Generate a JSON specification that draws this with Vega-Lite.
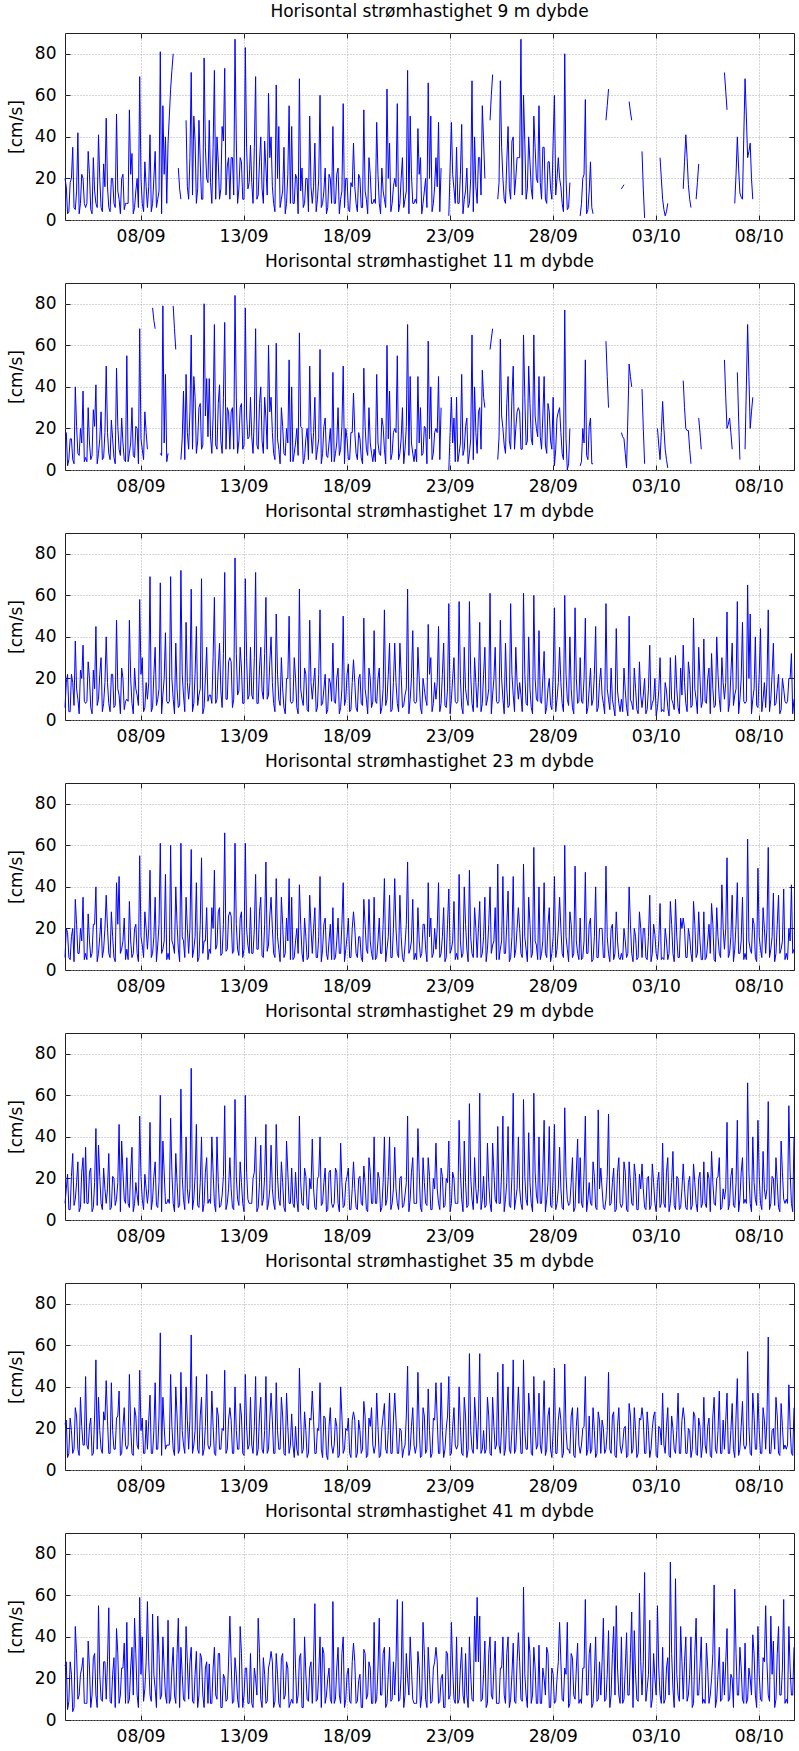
{
"$schema":"https://vega.github.io/schema/vega-lite/v6.json",
"background":"white",
"padding":{"left":6,"top":2,"right":4,"bottom":4},
"bounds":"flush",
"spacing":63,
"config":{
 "font":"DejaVu Sans",
 "view":{"stroke":"#222","strokeWidth":1},
 "axis":{"labelFont":"DejaVu Sans","labelFontSize":17,"labelColor":"#000","titleFont":"DejaVu Sans","titleFontSize":17,"titleFontWeight":"normal","titleColor":"#000","gridColor":"#aaaaaa","gridDash":[1,2],"gridWidth":1,"domain":false,"tickColor":"#222","tickSize":-5},
 "title":{"font":"DejaVu Sans","fontSize":17,"fontWeight":"normal","color":"#000","anchor":"middle","offset":12}
},
"data":{"values":[
{"t":"2011-09-04T08:00","m9":20,"m11":18,"m17":6,"m23":6,"m29":8,"m35":22,"m41":26},
{"t":"2011-09-04T11:00","m9":3,"m11":2,"m17":22,"m23":18,"m29":22,"m35":6,"m41":5},
{"t":"2011-09-04T14:00","m9":18,"m11":15,"m17":4,"m23":5,"m29":5,"m35":25,"m41":28},
{"t":"2011-09-04T17:00","m9":35,"m11":5,"m17":18,"m23":20,"m29":32,"m35":8,"m41":4},
{"t":"2011-09-04T20:00","m9":5,"m11":40,"m17":38,"m23":34,"m29":10,"m35":30,"m41":45},
{"t":"2011-09-04T23:00","m9":42,"m11":8,"m17":10,"m23":8,"m29":28,"m35":10,"m41":10},
{"t":"2011-09-05T02:00","m9":8,"m11":20,"m17":24,"m23":20,"m29":6,"m35":35,"m41":22},
{"t":"2011-09-05T05:00","m9":20,"m11":38,"m17":36,"m23":35,"m29":30,"m35":12,"m41":30},
{"t":"2011-09-05T08:00","m9":6,"m11":6,"m17":8,"m23":8,"m29":35,"m35":45,"m41":8},
{"t":"2011-09-05T11:00","m9":33,"m11":30,"m17":28,"m23":27,"m29":8,"m35":10,"m41":38},
{"t":"2011-09-05T14:00","m9":5,"m11":5,"m17":6,"m23":6,"m29":25,"m35":25,"m41":6},
{"t":"2011-09-05T17:00","m9":30,"m11":29,"m17":24,"m23":22,"m29":6,"m35":8,"m41":30},
{"t":"2011-09-05T20:00","m9":8,"m11":41,"m17":45,"m23":40,"m29":44,"m35":53,"m41":12},
{"t":"2011-09-05T23:00","m9":41,"m11":8,"m17":10,"m23":8,"m29":36,"m35":35,"m41":55},
{"t":"2011-09-06T02:00","m9":6,"m11":28,"m17":30,"m23":25,"m29":8,"m35":10,"m41":10},
{"t":"2011-09-06T05:00","m9":27,"m11":6,"m17":8,"m23":10,"m29":25,"m35":28,"m41":28},
{"t":"2011-09-06T08:00","m9":49,"m11":50,"m17":40,"m23":36,"m29":8,"m35":43,"m41":10},
{"t":"2011-09-06T11:00","m9":6,"m11":8,"m17":8,"m23":8,"m29":32,"m35":8,"m41":54},
{"t":"2011-09-06T14:00","m9":20,"m11":24,"m17":22,"m23":28,"m29":6,"m35":42,"m41":8},
{"t":"2011-09-06T17:00","m9":8,"m11":6,"m17":6,"m23":6,"m29":20,"m35":10,"m41":30},
{"t":"2011-09-06T20:00","m9":51,"m11":49,"m17":48,"m23":42,"m29":10,"m35":25,"m41":44},
{"t":"2011-09-06T23:00","m9":10,"m11":10,"m17":12,"m23":45,"m29":46,"m35":38,"m41":8},
{"t":"2011-09-07T02:00","m9":20,"m11":25,"m17":25,"m23":10,"m29":38,"m35":8,"m41":25},
{"t":"2011-09-07T05:00","m9":5,"m11":5,"m17":5,"m23":25,"m29":10,"m35":30,"m41":37},
{"t":"2011-09-07T08:00","m9":8,"m11":55,"m17":10,"m23":10,"m29":30,"m35":10,"m41":47},
{"t":"2011-09-07T11:00","m9":53,"m11":8,"m17":48,"m23":33,"m29":6,"m35":46,"m41":10},
{"t":"2011-09-07T14:00","m9":32,"m11":30,"m17":8,"m23":6,"m29":35,"m35":8,"m41":35},
{"t":"2011-09-07T17:00","m9":6,"m11":6,"m17":25,"m23":20,"m29":8,"m35":30,"m41":49},
{"t":"2011-09-07T20:00","m9":20,"m11":20,"m17":12,"m23":8,"m29":12,"m35":12,"m41":12},
{"t":"2011-09-07T23:00","m9":69,"m11":68,"m17":58,"m23":55,"m29":50,"m35":48,"m41":59},
{"t":"2011-09-08T02:00","m9":8,"m11":10,"m17":30,"m23":12,"m29":10,"m35":25,"m41":40},
{"t":"2011-09-08T05:00","m9":28,"m11":28,"m17":6,"m23":28,"m29":22,"m35":8,"m41":15},
{"t":"2011-09-08T08:00","m9":6,"m11":10,"m17":10,"m23":10,"m29":8,"m35":10,"m41":57},
{"t":"2011-09-08T11:00","m9":41,"m11":null,"m17":69,"m23":48,"m29":47,"m35":36,"m41":12},
{"t":"2011-09-08T14:00","m9":8,"m11":78,"m17":6,"m23":8,"m29":10,"m35":8,"m41":51},
{"t":"2011-09-08T17:00","m9":33,"m11":68,"m17":35,"m23":35,"m29":28,"m35":42,"m41":15},
{"t":"2011-09-08T20:00","m9":10,"m11":null,"m17":10,"m23":12,"m29":6,"m35":10,"m41":50},
{"t":"2011-09-08T23:00","m9":81,"m11":8,"m17":66,"m23":61,"m29":60,"m35":66,"m41":10},
{"t":"2011-09-09T02:00","m9":55,"m11":79,"m17":12,"m23":10,"m29":38,"m35":35,"m41":40},
{"t":"2011-09-09T05:00","m9":40,"m11":46,"m17":42,"m23":46,"m29":8,"m35":10,"m41":12},
{"t":"2011-09-09T08:00","m9":37,"m11":8,"m17":8,"m23":8,"m29":10,"m35":12,"m41":48},
{"t":"2011-09-09T11:00","m9":63,"m11":null,"m17":69,"m23":60,"m29":49,"m35":46,"m41":10},
{"t":"2011-09-09T14:00","m9":80,"m11":79,"m17":10,"m23":12,"m29":8,"m35":10,"m41":35},
{"t":"2011-09-09T17:00","m9":null,"m11":58,"m17":37,"m23":40,"m29":32,"m35":40,"m41":8},
{"t":"2011-09-09T20:00","m9":25,"m11":null,"m17":6,"m23":10,"m29":6,"m35":8,"m41":49},
{"t":"2011-09-09T23:00","m9":10,"m11":5,"m17":72,"m23":61,"m29":63,"m35":47,"m41":35},
{"t":"2011-09-10T02:00","m9":null,"m11":38,"m17":12,"m23":14,"m29":10,"m35":12,"m41":10},
{"t":"2011-09-10T05:00","m9":48,"m11":46,"m17":47,"m23":35,"m29":40,"m35":40,"m41":45},
{"t":"2011-09-10T08:00","m9":10,"m11":10,"m17":10,"m23":8,"m29":8,"m35":10,"m41":10},
{"t":"2011-09-10T11:00","m9":71,"m11":65,"m17":63,"m23":58,"m29":73,"m35":65,"m41":35},
{"t":"2011-09-10T14:00","m9":50,"m11":45,"m17":8,"m23":10,"m29":10,"m35":12,"m41":8},
{"t":"2011-09-10T17:00","m9":8,"m11":8,"m17":45,"m23":42,"m29":46,"m35":45,"m41":33},
{"t":"2011-09-10T20:00","m9":48,"m11":30,"m17":12,"m23":6,"m29":6,"m35":8,"m41":12},
{"t":"2011-09-10T23:00","m9":10,"m11":10,"m17":68,"m23":54,"m29":40,"m35":35,"m41":30},
{"t":"2011-09-11T02:00","m9":78,"m11":80,"m17":6,"m23":14,"m29":8,"m35":10,"m41":6},
{"t":"2011-09-11T05:00","m9":20,"m11":44,"m17":35,"m23":30,"m29":30,"m35":46,"m41":28},
{"t":"2011-09-11T08:00","m9":48,"m11":44,"m17":12,"m23":10,"m29":10,"m35":10,"m41":27},
{"t":"2011-09-11T11:00","m9":8,"m11":8,"m17":8,"m23":30,"m29":40,"m35":38,"m41":8},
{"t":"2011-09-11T14:00","m9":72,"m11":70,"m17":59,"m23":48,"m29":8,"m35":8,"m41":35},
{"t":"2011-09-11T17:00","m9":40,"m11":10,"m17":10,"m23":12,"m29":40,"m35":30,"m41":10},
{"t":"2011-09-11T20:00","m9":10,"m11":41,"m17":37,"m23":30,"m29":6,"m35":10,"m41":32},
{"t":"2011-09-11T23:00","m9":45,"m11":8,"m17":6,"m23":8,"m29":12,"m35":20,"m41":6},
{"t":"2011-09-12T02:00","m9":73,"m11":71,"m17":71,"m23":66,"m29":55,"m35":48,"m41":20},
{"t":"2011-09-12T05:00","m9":26,"m11":30,"m17":10,"m23":10,"m29":8,"m35":10,"m41":10},
{"t":"2011-09-12T08:00","m9":10,"m11":10,"m17":30,"m23":28,"m29":30,"m35":30,"m41":50},
{"t":"2011-09-12T11:00","m9":30,"m11":30,"m17":6,"m23":8,"m29":6,"m35":8,"m41":8},
{"t":"2011-09-12T14:00","m9":87,"m11":84,"m17":78,"m23":61,"m29":58,"m35":40,"m41":30},
{"t":"2011-09-12T17:00","m9":8,"m11":8,"m17":12,"m23":10,"m29":10,"m35":10,"m41":10},
{"t":"2011-09-12T20:00","m9":30,"m11":30,"m17":35,"m23":25,"m29":28,"m35":32,"m41":45},
{"t":"2011-09-12T23:00","m9":10,"m11":10,"m17":8,"m23":6,"m29":8,"m35":8,"m41":6},
{"t":"2011-09-13T02:00","m9":83,"m11":78,"m17":68,"m23":61,"m29":60,"m35":46,"m41":25},
{"t":"2011-09-13T05:00","m9":15,"m11":15,"m17":10,"m23":12,"m29":10,"m35":10,"m41":8},
{"t":"2011-09-13T08:00","m9":36,"m11":35,"m17":35,"m23":30,"m29":8,"m35":35,"m41":32},
{"t":"2011-09-13T11:00","m9":8,"m11":8,"m17":10,"m23":8,"m29":20,"m35":8,"m41":6},
{"t":"2011-09-13T14:00","m9":69,"m11":68,"m17":71,"m23":46,"m29":40,"m35":45,"m41":20},
{"t":"2011-09-13T17:00","m9":12,"m11":10,"m17":8,"m23":10,"m29":6,"m35":10,"m41":49},
{"t":"2011-09-13T20:00","m9":40,"m11":40,"m17":35,"m23":35,"m29":36,"m35":35,"m41":10},
{"t":"2011-09-13T23:00","m9":8,"m11":8,"m17":10,"m23":6,"m29":10,"m35":8,"m41":30},
{"t":"2011-09-14T02:00","m9":25,"m11":25,"m17":59,"m23":52,"m29":46,"m35":45,"m41":8},
{"t":"2011-09-14T05:00","m9":61,"m11":60,"m17":12,"m23":12,"m29":8,"m35":10,"m41":25},
{"t":"2011-09-14T08:00","m9":40,"m11":35,"m17":40,"m23":35,"m29":36,"m35":37,"m41":33},
{"t":"2011-09-14T11:00","m9":8,"m11":8,"m17":8,"m23":8,"m29":8,"m35":8,"m41":6},
{"t":"2011-09-14T14:00","m9":65,"m11":61,"m17":51,"m23":44,"m29":46,"m35":42,"m41":32},
{"t":"2011-09-14T17:00","m9":45,"m11":10,"m17":10,"m23":10,"m29":10,"m35":10,"m41":8},
{"t":"2011-09-14T20:00","m9":10,"m11":30,"m17":30,"m23":35,"m29":28,"m35":35,"m41":30},
{"t":"2011-09-14T23:00","m9":35,"m11":8,"m17":6,"m23":6,"m29":6,"m35":8,"m41":10},
{"t":"2011-09-15T02:00","m9":8,"m11":20,"m17":20,"m23":25,"m29":38,"m35":37,"m41":28},
{"t":"2011-09-15T05:00","m9":55,"m11":53,"m17":50,"m23":44,"m29":8,"m35":8,"m41":6},
{"t":"2011-09-15T08:00","m9":45,"m11":40,"m17":8,"m23":35,"m29":25,"m35":27,"m41":10},
{"t":"2011-09-15T11:00","m9":8,"m11":8,"m17":30,"m23":6,"m29":6,"m35":6,"m41":49},
{"t":"2011-09-15T14:00","m9":20,"m11":20,"m17":6,"m23":20,"m29":10,"m35":10,"m41":8},
{"t":"2011-09-15T17:00","m9":68,"m11":66,"m17":63,"m23":41,"m29":50,"m35":49,"m41":30},
{"t":"2011-09-15T20:00","m9":25,"m11":20,"m17":10,"m23":8,"m29":8,"m35":8,"m41":6},
{"t":"2011-09-15T23:00","m9":8,"m11":6,"m17":25,"m23":25,"m29":25,"m35":28,"m41":40},
{"t":"2011-09-16T02:00","m9":20,"m11":20,"m17":5,"m23":5,"m29":6,"m35":6,"m41":10},
{"t":"2011-09-16T05:00","m9":50,"m11":50,"m17":48,"m23":36,"m29":20,"m35":25,"m41":25},
{"t":"2011-09-16T08:00","m9":8,"m11":8,"m17":10,"m23":8,"m29":39,"m35":38,"m41":8},
{"t":"2011-09-16T11:00","m9":37,"m11":35,"m17":25,"m23":30,"m29":6,"m35":8,"m41":56},
{"t":"2011-09-16T14:00","m9":10,"m11":10,"m17":6,"m23":6,"m29":20,"m35":20,"m41":10},
{"t":"2011-09-16T17:00","m9":60,"m11":58,"m17":53,"m23":45,"m29":40,"m35":42,"m41":40},
{"t":"2011-09-16T20:00","m9":8,"m11":8,"m17":8,"m23":10,"m29":8,"m35":6,"m41":35},
{"t":"2011-09-16T23:00","m9":25,"m11":25,"m17":22,"m23":25,"m29":25,"m35":25,"m41":8},
{"t":"2011-09-17T02:00","m9":6,"m11":6,"m17":5,"m23":5,"m29":5,"m35":5,"m41":20},
{"t":"2011-09-17T05:00","m9":20,"m11":20,"m17":18,"m23":22,"m29":24,"m35":30,"m41":10},
{"t":"2011-09-17T08:00","m9":45,"m11":47,"m17":37,"m23":30,"m29":6,"m35":8,"m41":57},
{"t":"2011-09-17T11:00","m9":8,"m11":8,"m17":8,"m23":6,"m29":25,"m35":25,"m41":10},
{"t":"2011-09-17T14:00","m9":25,"m11":30,"m17":25,"m23":25,"m29":8,"m35":6,"m41":35},
{"t":"2011-09-17T17:00","m9":10,"m11":10,"m17":6,"m23":8,"m29":37,"m35":40,"m41":8},
{"t":"2011-09-17T20:00","m9":56,"m11":50,"m17":50,"m23":42,"m29":6,"m35":8,"m41":40},
{"t":"2011-09-17T23:00","m9":20,"m11":20,"m17":10,"m23":10,"m29":18,"m35":20,"m41":10},
{"t":"2011-09-18T02:00","m9":5,"m11":5,"m17":27,"m23":25,"m29":25,"m35":25,"m41":25},
{"t":"2011-09-18T05:00","m9":18,"m11":18,"m17":5,"m23":6,"m29":5,"m35":6,"m41":8},
{"t":"2011-09-18T08:00","m9":37,"m11":37,"m17":29,"m23":28,"m29":28,"m35":28,"m41":37},
{"t":"2011-09-18T11:00","m9":8,"m11":8,"m17":6,"m23":8,"m29":6,"m35":6,"m41":8},
{"t":"2011-09-18T14:00","m9":22,"m11":18,"m17":20,"m23":16,"m29":20,"m35":24,"m41":19},
{"t":"2011-09-18T17:00","m9":6,"m11":6,"m17":8,"m23":6,"m29":8,"m35":8,"m41":6},
{"t":"2011-09-18T20:00","m9":53,"m11":49,"m17":49,"m23":34,"m29":26,"m35":33,"m41":34},
{"t":"2011-09-18T23:00","m9":10,"m11":10,"m17":10,"m23":10,"m29":5,"m35":6,"m41":10},
{"t":"2011-09-19T02:00","m9":30,"m11":30,"m17":25,"m23":34,"m29":30,"m35":25,"m41":28},
{"t":"2011-09-19T05:00","m9":8,"m11":8,"m17":6,"m23":8,"m29":8,"m35":30,"m41":8},
{"t":"2011-09-19T08:00","m9":10,"m11":10,"m17":43,"m23":35,"m29":40,"m35":8,"m41":47},
{"t":"2011-09-19T11:00","m9":47,"m11":46,"m17":8,"m23":6,"m29":8,"m35":37,"m41":10},
{"t":"2011-09-19T14:00","m9":8,"m11":8,"m17":25,"m23":25,"m29":20,"m35":6,"m41":49},
{"t":"2011-09-19T17:00","m9":25,"m11":25,"m17":6,"m23":8,"m29":6,"m35":20,"m41":12},
{"t":"2011-09-19T20:00","m9":10,"m11":10,"m17":53,"m23":44,"m29":40,"m35":32,"m41":35},
{"t":"2011-09-19T23:00","m9":63,"m11":60,"m17":10,"m23":10,"m29":10,"m35":8,"m41":8},
{"t":"2011-09-20T02:00","m9":37,"m11":38,"m17":37,"m23":36,"m29":40,"m35":37,"m41":35},
{"t":"2011-09-20T05:00","m9":8,"m11":8,"m17":5,"m23":6,"m29":8,"m35":8,"m41":10},
{"t":"2011-09-20T08:00","m9":20,"m11":20,"m17":37,"m23":44,"m29":35,"m35":37,"m41":12},
{"t":"2011-09-20T11:00","m9":56,"m11":55,"m17":8,"m23":8,"m29":8,"m35":8,"m41":58},
{"t":"2011-09-20T14:00","m9":8,"m11":8,"m17":37,"m23":36,"m29":20,"m35":20,"m41":10},
{"t":"2011-09-20T17:00","m9":30,"m11":30,"m17":6,"m23":6,"m29":6,"m35":6,"m41":57},
{"t":"2011-09-20T20:00","m9":10,"m11":10,"m17":12,"m23":12,"m29":12,"m35":12,"m41":12},
{"t":"2011-09-20T23:00","m9":72,"m11":70,"m17":63,"m23":52,"m29":50,"m35":50,"m41":20},
{"t":"2011-09-21T02:00","m9":50,"m11":45,"m17":10,"m23":10,"m29":10,"m35":10,"m41":40},
{"t":"2011-09-21T05:00","m9":8,"m11":8,"m17":43,"m23":34,"m29":30,"m35":30,"m41":10},
{"t":"2011-09-21T08:00","m9":10,"m11":10,"m17":8,"m23":8,"m29":8,"m35":8,"m41":8},
{"t":"2011-09-21T11:00","m9":44,"m11":45,"m17":35,"m23":30,"m29":44,"m35":47,"m41":33},
{"t":"2011-09-21T14:00","m9":30,"m11":30,"m17":6,"m23":6,"m29":6,"m35":6,"m41":6},
{"t":"2011-09-21T17:00","m9":8,"m11":8,"m17":20,"m23":22,"m29":30,"m35":30,"m41":47},
{"t":"2011-09-21T20:00","m9":20,"m11":20,"m17":10,"m23":10,"m29":8,"m35":8,"m41":10},
{"t":"2011-09-21T23:00","m9":66,"m11":62,"m17":46,"m23":42,"m29":30,"m35":39,"m41":35},
{"t":"2011-09-22T02:00","m9":50,"m11":40,"m17":30,"m23":25,"m29":5,"m35":6,"m41":8},
{"t":"2011-09-22T05:00","m9":8,"m11":8,"m17":8,"m23":8,"m29":20,"m35":25,"m41":25},
{"t":"2011-09-22T08:00","m9":30,"m11":20,"m17":10,"m23":10,"m29":37,"m35":42,"m41":35},
{"t":"2011-09-22T11:00","m9":47,"m11":45,"m17":45,"m23":42,"m29":8,"m35":8,"m41":8},
{"t":"2011-09-22T14:00","m9":25,"m11":30,"m17":8,"m23":8,"m29":25,"m35":42,"m41":20},
{"t":"2011-09-22T17:00","m9":null,"m11":null,"m17":37,"m23":30,"m29":6,"m35":6,"m41":6},
{"t":"2011-09-22T20:00","m9":null,"m11":null,"m17":6,"m23":6,"m29":20,"m35":20,"m41":33},
{"t":"2011-09-22T23:00","m9":2,"m11":0,"m17":56,"m23":39,"m29":38,"m35":45,"m41":10},
{"t":"2011-09-23T02:00","m9":47,"m11":35,"m17":10,"m23":10,"m29":8,"m35":8,"m41":47},
{"t":"2011-09-23T05:00","m9":15,"m11":25,"m17":30,"m23":33,"m29":20,"m35":30,"m41":10},
{"t":"2011-09-23T08:00","m9":35,"m11":35,"m17":8,"m23":8,"m29":8,"m35":10,"m41":40},
{"t":"2011-09-23T11:00","m9":8,"m11":8,"m17":57,"m23":46,"m29":48,"m35":40,"m41":10},
{"t":"2011-09-23T14:00","m9":46,"m11":46,"m17":6,"m23":6,"m29":10,"m35":8,"m41":35},
{"t":"2011-09-23T17:00","m9":10,"m11":10,"m17":35,"m23":40,"m29":38,"m35":35,"m41":8},
{"t":"2011-09-23T20:00","m9":25,"m11":25,"m17":10,"m23":10,"m29":6,"m35":6,"m41":12},
{"t":"2011-09-23T23:00","m9":8,"m11":8,"m17":57,"m23":48,"m29":56,"m35":56,"m41":40},
{"t":"2011-09-24T02:00","m9":67,"m11":65,"m17":8,"m23":8,"m29":10,"m35":10,"m41":10},
{"t":"2011-09-24T05:00","m9":40,"m11":40,"m17":30,"m23":30,"m29":30,"m35":35,"m41":50},
{"t":"2011-09-24T08:00","m9":8,"m11":8,"m17":6,"m23":6,"m29":8,"m35":10,"m41":59},
{"t":"2011-09-24T11:00","m9":30,"m11":30,"m17":47,"m23":33,"m29":61,"m35":56,"m41":50},
{"t":"2011-09-24T14:00","m9":55,"m11":48,"m17":8,"m23":8,"m29":10,"m35":10,"m41":10},
{"t":"2011-09-24T17:00","m9":20,"m11":30,"m17":35,"m23":35,"m29":6,"m35":8,"m41":38},
{"t":"2011-09-24T20:00","m9":null,"m11":null,"m17":10,"m23":10,"m29":37,"m35":35,"m41":8},
{"t":"2011-09-24T23:00","m9":48,"m11":58,"m17":61,"m23":40,"m29":8,"m35":8,"m41":40},
{"t":"2011-09-25T02:00","m9":70,"m11":68,"m17":12,"m23":12,"m29":37,"m35":35,"m41":10},
{"t":"2011-09-25T05:00","m9":null,"m11":null,"m17":35,"m23":30,"m29":10,"m35":10,"m41":38},
{"t":"2011-09-25T08:00","m9":10,"m11":5,"m17":8,"m23":51,"m29":45,"m35":47,"m41":8},
{"t":"2011-09-25T11:00","m9":67,"m11":63,"m17":48,"m23":10,"m29":8,"m35":8,"m41":25},
{"t":"2011-09-25T14:00","m9":20,"m11":20,"m17":10,"m23":45,"m29":50,"m35":51,"m41":40},
{"t":"2011-09-25T17:00","m9":8,"m11":8,"m17":37,"m23":8,"m29":10,"m35":10,"m41":8},
{"t":"2011-09-25T20:00","m9":45,"m11":45,"m17":6,"m23":38,"m29":45,"m35":40,"m41":40},
{"t":"2011-09-25T23:00","m9":10,"m11":10,"m17":56,"m23":6,"m29":6,"m35":8,"m41":10},
{"t":"2011-09-26T02:00","m9":40,"m11":50,"m17":12,"m23":45,"m29":61,"m35":53,"m41":37},
{"t":"2011-09-26T05:00","m9":20,"m11":20,"m17":35,"m23":10,"m29":10,"m35":10,"m41":8},
{"t":"2011-09-26T08:00","m9":30,"m11":30,"m17":10,"m23":30,"m29":40,"m35":40,"m41":42},
{"t":"2011-09-26T11:00","m9":87,"m11":10,"m17":12,"m23":8,"m29":8,"m35":8,"m41":10},
{"t":"2011-09-26T14:00","m9":60,"m11":65,"m17":61,"m23":51,"m29":58,"m35":53,"m41":64},
{"t":"2011-09-26T17:00","m9":10,"m11":12,"m17":8,"m23":10,"m29":10,"m35":10,"m41":12},
{"t":"2011-09-26T20:00","m9":40,"m11":50,"m17":40,"m23":35,"m29":42,"m35":37,"m41":40},
{"t":"2011-09-26T23:00","m9":15,"m11":15,"m17":6,"m23":6,"m29":8,"m35":8,"m41":8},
{"t":"2011-09-27T02:00","m9":50,"m11":65,"m17":60,"m23":59,"m29":61,"m35":45,"m41":35},
{"t":"2011-09-27T05:00","m9":20,"m11":20,"m17":10,"m23":12,"m29":12,"m35":10,"m41":8},
{"t":"2011-09-27T08:00","m9":55,"m11":45,"m17":43,"m23":40,"m29":40,"m35":37,"m41":36},
{"t":"2011-09-27T11:00","m9":10,"m11":10,"m17":8,"m23":8,"m29":8,"m35":8,"m41":8},
{"t":"2011-09-27T14:00","m9":35,"m11":45,"m17":33,"m23":42,"m29":48,"m35":43,"m41":20},
{"t":"2011-09-27T17:00","m9":8,"m11":8,"m17":6,"m23":6,"m29":10,"m35":10,"m41":35},
{"t":"2011-09-27T20:00","m9":28,"m11":28,"m17":20,"m23":30,"m29":45,"m35":30,"m41":6},
{"t":"2011-09-27T23:00","m9":10,"m11":10,"m17":5,"m23":8,"m29":6,"m35":6,"m41":25},
{"t":"2011-09-28T02:00","m9":60,"m11":2,"m17":54,"m23":45,"m29":46,"m35":49,"m41":8},
{"t":"2011-09-28T05:00","m9":20,"m11":25,"m17":10,"m23":10,"m29":8,"m35":8,"m41":20},
{"t":"2011-09-28T08:00","m9":20,"m11":30,"m17":35,"m23":35,"m29":35,"m35":30,"m41":47},
{"t":"2011-09-28T11:00","m9":8,"m11":8,"m17":8,"m23":8,"m29":6,"m35":6,"m41":10},
{"t":"2011-09-28T14:00","m9":80,"m11":77,"m17":60,"m23":60,"m29":54,"m35":51,"m41":25},
{"t":"2011-09-28T17:00","m9":5,"m11":0,"m17":10,"m23":10,"m29":10,"m35":10,"m41":47},
{"t":"2011-09-28T20:00","m9":18,"m11":20,"m17":40,"m23":28,"m29":8,"m35":8,"m41":8},
{"t":"2011-09-28T23:00","m9":null,"m11":null,"m17":6,"m23":6,"m29":30,"m35":30,"m41":30},
{"t":"2011-09-29T02:00","m9":null,"m11":null,"m17":54,"m23":50,"m29":6,"m35":6,"m41":10},
{"t":"2011-09-29T05:00","m9":null,"m11":null,"m17":8,"m23":8,"m29":39,"m35":30,"m41":37},
{"t":"2011-09-29T08:00","m9":2,"m11":2,"m17":30,"m23":25,"m29":30,"m35":8,"m41":10},
{"t":"2011-09-29T11:00","m9":20,"m11":20,"m17":8,"m23":6,"m29":6,"m35":20,"m41":25},
{"t":"2011-09-29T14:00","m9":58,"m11":53,"m17":49,"m23":47,"m29":50,"m35":45,"m41":58},
{"t":"2011-09-29T17:00","m9":5,"m11":5,"m17":6,"m23":8,"m29":10,"m35":10,"m41":12},
{"t":"2011-09-29T20:00","m9":28,"m11":25,"m17":25,"m23":25,"m29":8,"m35":8,"m41":37},
{"t":"2011-09-29T23:00","m9":3,"m11":3,"m17":10,"m23":5,"m29":28,"m35":30,"m41":8},
{"t":"2011-09-30T02:00","m9":null,"m11":null,"m17":45,"m23":40,"m29":6,"m35":6,"m41":40},
{"t":"2011-09-30T05:00","m9":null,"m11":null,"m17":6,"m23":6,"m29":53,"m35":28,"m41":10},
{"t":"2011-09-30T08:00","m9":null,"m11":null,"m17":25,"m23":20,"m29":25,"m35":8,"m41":12},
{"t":"2011-09-30T11:00","m9":null,"m11":null,"m17":8,"m23":6,"m29":6,"m35":20,"m41":49},
{"t":"2011-09-30T14:00","m9":48,"m11":62,"m17":56,"m23":50,"m29":10,"m35":10,"m41":10},
{"t":"2011-09-30T17:00","m9":63,"m11":30,"m17":10,"m23":8,"m29":51,"m35":47,"m41":43},
{"t":"2011-09-30T20:00","m9":null,"m11":null,"m17":25,"m23":20,"m29":8,"m35":8,"m41":12},
{"t":"2011-09-30T23:00","m9":null,"m11":null,"m17":6,"m23":5,"m29":25,"m35":28,"m41":45},
{"t":"2011-10-01T02:00","m9":null,"m11":null,"m17":44,"m23":28,"m29":5,"m35":6,"m41":55},
{"t":"2011-10-01T05:00","m9":null,"m11":null,"m17":8,"m23":6,"m29":30,"m35":30,"m41":12},
{"t":"2011-10-01T08:00","m9":15,"m11":18,"m17":10,"m23":8,"m29":6,"m35":8,"m41":40},
{"t":"2011-10-01T11:00","m9":17,"m11":15,"m17":25,"m23":20,"m29":28,"m35":20,"m41":10},
{"t":"2011-10-01T14:00","m9":null,"m11":1,"m17":6,"m23":6,"m29":5,"m35":6,"m41":42},
{"t":"2011-10-01T17:00","m9":57,"m11":51,"m17":50,"m23":40,"m29":28,"m35":32,"m41":12},
{"t":"2011-10-01T20:00","m9":48,"m11":40,"m17":8,"m23":8,"m29":8,"m35":8,"m41":52},
{"t":"2011-10-01T23:00","m9":null,"m11":null,"m17":25,"m23":20,"m29":27,"m35":30,"m41":43},
{"t":"2011-10-02T02:00","m9":null,"m11":null,"m17":5,"m23":5,"m29":5,"m35":6,"m41":10},
{"t":"2011-10-02T05:00","m9":null,"m11":null,"m17":28,"m23":28,"m29":22,"m35":25,"m41":61},
{"t":"2011-10-02T08:00","m9":33,"m11":39,"m17":6,"m23":6,"m29":27,"m35":30,"m41":12},
{"t":"2011-10-02T11:00","m9":1,"m11":3,"m17":20,"m23":20,"m29":6,"m35":8,"m41":71},
{"t":"2011-10-02T14:00","m9":null,"m11":null,"m17":5,"m23":5,"m29":20,"m35":28,"m41":15},
{"t":"2011-10-02T17:00","m9":null,"m11":null,"m17":36,"m23":36,"m29":5,"m35":6,"m41":48},
{"t":"2011-10-02T20:00","m9":null,"m11":null,"m17":8,"m23":8,"m29":27,"m35":20,"m41":10},
{"t":"2011-10-02T23:00","m9":null,"m11":null,"m17":20,"m23":17,"m29":8,"m35":28,"m41":20},
{"t":"2011-10-03T02:00","m9":null,"m11":20,"m17":6,"m23":5,"m29":18,"m35":6,"m41":55},
{"t":"2011-10-03T05:00","m9":30,"m11":5,"m17":30,"m23":32,"m29":6,"m35":20,"m41":12},
{"t":"2011-10-03T08:00","m9":10,"m11":33,"m17":5,"m23":6,"m29":37,"m35":37,"m41":35},
{"t":"2011-10-03T11:00","m9":2,"m11":10,"m17":18,"m23":20,"m29":6,"m35":8,"m41":10},
{"t":"2011-10-03T14:00","m9":8,"m11":1,"m17":6,"m23":5,"m29":30,"m35":30,"m41":30},
{"t":"2011-10-03T17:00","m9":null,"m11":null,"m17":30,"m23":33,"m29":8,"m35":6,"m41":76},
{"t":"2011-10-03T20:00","m9":null,"m11":null,"m17":8,"m23":8,"m29":33,"m35":20,"m41":15},
{"t":"2011-10-03T23:00","m9":null,"m11":null,"m17":31,"m23":34,"m29":5,"m35":8,"m41":68},
{"t":"2011-10-04T02:00","m9":null,"m11":null,"m17":6,"m23":6,"m29":20,"m35":37,"m41":12},
{"t":"2011-10-04T05:00","m9":null,"m11":null,"m17":25,"m23":25,"m29":6,"m35":8,"m41":45},
{"t":"2011-10-04T08:00","m9":15,"m11":43,"m17":36,"m23":25,"m29":27,"m35":30,"m41":10},
{"t":"2011-10-04T11:00","m9":41,"m11":20,"m17":8,"m23":6,"m29":6,"m35":8,"m41":40},
{"t":"2011-10-04T14:00","m9":17,"m11":19,"m17":28,"m23":20,"m29":18,"m35":20,"m41":12},
{"t":"2011-10-04T17:00","m9":6,"m11":3,"m17":6,"m23":8,"m29":5,"m35":6,"m41":40},
{"t":"2011-10-04T20:00","m9":null,"m11":null,"m17":49,"m23":33,"m29":27,"m35":28,"m41":8},
{"t":"2011-10-04T23:00","m9":10,"m11":null,"m17":10,"m23":6,"m29":8,"m35":8,"m41":49},
{"t":"2011-10-05T02:00","m9":27,"m11":25,"m17":35,"m23":28,"m29":20,"m35":25,"m41":12},
{"t":"2011-10-05T05:00","m9":null,"m11":10,"m17":6,"m23":5,"m29":6,"m35":6,"m41":40},
{"t":"2011-10-05T08:00","m9":null,"m11":null,"m17":39,"m23":28,"m29":28,"m35":35,"m41":10},
{"t":"2011-10-05T11:00","m9":null,"m11":null,"m17":8,"m23":6,"m29":6,"m35":8,"m41":37},
{"t":"2011-10-05T14:00","m9":null,"m11":null,"m17":25,"m23":22,"m29":20,"m35":25,"m41":8},
{"t":"2011-10-05T17:00","m9":null,"m11":null,"m17":32,"m23":32,"m29":33,"m35":6,"m41":20},
{"t":"2011-10-05T20:00","m9":null,"m11":null,"m17":6,"m23":5,"m29":8,"m35":35,"m41":65},
{"t":"2011-10-05T23:00","m9":null,"m11":null,"m17":40,"m23":30,"m29":20,"m35":8,"m41":10},
{"t":"2011-10-06T02:00","m9":null,"m11":null,"m17":10,"m23":8,"m29":30,"m35":38,"m41":35},
{"t":"2011-10-06T05:00","m9":null,"m11":null,"m17":30,"m23":41,"m29":6,"m35":8,"m41":10},
{"t":"2011-10-06T08:00","m9":71,"m11":53,"m17":10,"m23":10,"m29":10,"m35":10,"m41":12},
{"t":"2011-10-06T11:00","m9":53,"m11":20,"m17":52,"m23":54,"m29":47,"m35":37,"m41":44},
{"t":"2011-10-06T14:00","m9":null,"m11":25,"m17":8,"m23":8,"m29":8,"m35":8,"m41":10},
{"t":"2011-10-06T17:00","m9":null,"m11":10,"m17":37,"m23":36,"m29":25,"m35":32,"m41":20},
{"t":"2011-10-06T20:00","m9":8,"m11":null,"m17":12,"m23":10,"m29":6,"m35":6,"m41":63},
{"t":"2011-10-06T23:00","m9":40,"m11":47,"m17":57,"m23":42,"m29":48,"m35":44,"m41":12},
{"t":"2011-10-07T02:00","m9":13,"m11":5,"m17":10,"m23":8,"m29":10,"m35":10,"m41":35},
{"t":"2011-10-07T05:00","m9":10,"m11":null,"m17":47,"m23":35,"m29":30,"m35":33,"m41":10},
{"t":"2011-10-07T08:00","m9":68,"m11":10,"m17":8,"m23":8,"m29":10,"m35":10,"m41":37},
{"t":"2011-10-07T11:00","m9":30,"m11":70,"m17":65,"m23":63,"m29":66,"m35":57,"m41":10},
{"t":"2011-10-07T14:00","m9":37,"m11":20,"m17":51,"m23":10,"m29":8,"m35":8,"m41":20},
{"t":"2011-10-07T17:00","m9":10,"m11":35,"m17":10,"m23":25,"m29":40,"m35":37,"m41":41},
{"t":"2011-10-07T20:00","m9":null,"m11":null,"m17":40,"m23":6,"m29":10,"m35":10,"m41":12},
{"t":"2011-10-07T23:00","m9":null,"m11":null,"m17":6,"m23":49,"m29":48,"m35":37,"m41":45},
{"t":"2011-10-08T02:00","m9":null,"m11":null,"m17":44,"m23":10,"m29":8,"m35":8,"m41":10},
{"t":"2011-10-08T05:00","m9":null,"m11":null,"m17":10,"m23":30,"m29":33,"m35":30,"m41":30},
{"t":"2011-10-08T08:00","m9":null,"m11":null,"m17":6,"m23":8,"m29":10,"m35":10,"m41":55},
{"t":"2011-10-08T11:00","m9":null,"m11":null,"m17":53,"m23":59,"m29":57,"m35":64,"m41":12},
{"t":"2011-10-08T14:00","m9":null,"m11":null,"m17":10,"m23":10,"m29":8,"m35":8,"m41":50},
{"t":"2011-10-08T17:00","m9":null,"m11":null,"m17":37,"m23":37,"m29":20,"m35":20,"m41":38},
{"t":"2011-10-08T20:00","m9":null,"m11":null,"m17":8,"m23":8,"m29":30,"m35":35,"m41":10},
{"t":"2011-10-08T23:00","m9":null,"m11":null,"m17":22,"m23":36,"m29":6,"m35":8,"m41":45},
{"t":"2011-10-09T02:00","m9":null,"m11":null,"m17":5,"m23":10,"m29":38,"m35":32,"m41":12},
{"t":"2011-10-09T05:00","m9":null,"m11":null,"m17":15,"m23":39,"m29":10,"m35":10,"m41":58},
{"t":"2011-10-09T08:00","m9":null,"m11":null,"m17":8,"m23":8,"m29":10,"m35":10,"m41":10},
{"t":"2011-10-09T11:00","m9":null,"m11":null,"m17":20,"m23":20,"m29":55,"m35":41,"m41":45},
{"t":"2011-10-09T14:00","m9":null,"m11":null,"m17":32,"m23":41,"m29":8,"m35":8,"m41":12},
{"t":"2011-10-09T17:00","m9":null,"m11":null,"m17":10,"m23":10,"m29":40,"m35":30,"m41":35},
{"t":"2011-09-04T09:30","m9":16,"m11":18,"m17":18,"m23":20,"m29":15,"m35":24,"m41":28},
{"t":"2011-09-04T12:30","m9":4,"m11":5,"m17":4,"m23":6,"m29":5,"m35":8,"m41":9},
{"t":"2011-09-04T15:30","m9":20,"m11":15,"m17":22,"m23":16,"m29":21,"m35":19,"m41":22},
{"t":"2011-09-04T18:30","m9":6,"m11":3,"m17":7,"m23":4,"m29":7,"m35":10,"m41":6},
{"t":"2011-09-04T21:30","m9":14,"m11":21,"m17":15,"m23":22,"m29":18,"m35":26,"m41":32},
{"t":"2011-09-05T00:30","m9":3,"m11":7,"m17":3,"m23":8,"m29":4,"m35":7,"m41":12},
{"t":"2011-09-05T03:30","m9":22,"m11":13,"m17":20,"m23":14,"m29":23,"m35":21,"m41":25},
{"t":"2011-09-05T06:30","m9":8,"m11":4,"m17":9,"m23":5,"m29":8,"m35":12,"m41":8},
{"t":"2011-09-05T09:30","m9":8,"m11":4,"m17":9,"m23":5,"m29":8,"m35":12,"m41":8},
{"t":"2011-09-05T12:30","m9":22,"m11":13,"m17":20,"m23":14,"m29":23,"m35":21,"m41":25},
{"t":"2011-09-05T15:30","m9":3,"m11":7,"m17":3,"m23":8,"m29":4,"m35":7,"m41":12},
{"t":"2011-09-05T18:30","m9":14,"m11":21,"m17":15,"m23":22,"m29":18,"m35":26,"m41":32},
{"t":"2011-09-05T21:30","m9":6,"m11":3,"m17":7,"m23":4,"m29":7,"m35":10,"m41":6},
{"t":"2011-09-06T00:30","m9":20,"m11":15,"m17":22,"m23":16,"m29":21,"m35":19,"m41":22},
{"t":"2011-09-06T03:30","m9":4,"m11":5,"m17":4,"m23":6,"m29":5,"m35":8,"m41":9},
{"t":"2011-09-06T06:30","m9":16,"m11":18,"m17":18,"m23":20,"m29":15,"m35":24,"m41":28},
{"t":"2011-09-06T09:30","m9":16,"m11":18,"m17":18,"m23":20,"m29":15,"m35":24,"m41":28},
{"t":"2011-09-06T12:30","m9":4,"m11":5,"m17":4,"m23":6,"m29":5,"m35":8,"m41":9},
{"t":"2011-09-06T15:30","m9":20,"m11":15,"m17":22,"m23":16,"m29":21,"m35":19,"m41":22},
{"t":"2011-09-06T18:30","m9":6,"m11":3,"m17":7,"m23":4,"m29":7,"m35":10,"m41":6},
{"t":"2011-09-06T21:30","m9":14,"m11":21,"m17":15,"m23":22,"m29":18,"m35":26,"m41":32},
{"t":"2011-09-07T00:30","m9":3,"m11":7,"m17":3,"m23":8,"m29":4,"m35":7,"m41":12},
{"t":"2011-09-07T03:30","m9":22,"m11":13,"m17":20,"m23":14,"m29":23,"m35":21,"m41":25},
{"t":"2011-09-07T06:30","m9":8,"m11":4,"m17":9,"m23":5,"m29":8,"m35":12,"m41":8},
{"t":"2011-09-07T09:30","m9":8,"m11":4,"m17":9,"m23":5,"m29":8,"m35":12,"m41":8},
{"t":"2011-09-07T12:30","m9":22,"m11":13,"m17":20,"m23":14,"m29":23,"m35":21,"m41":25},
{"t":"2011-09-07T15:30","m9":3,"m11":7,"m17":3,"m23":8,"m29":4,"m35":7,"m41":12},
{"t":"2011-09-07T18:30","m9":14,"m11":21,"m17":15,"m23":22,"m29":18,"m35":26,"m41":32},
{"t":"2011-09-07T21:30","m9":6,"m11":3,"m17":7,"m23":4,"m29":7,"m35":10,"m41":6},
{"t":"2011-09-08T00:30","m9":20,"m11":15,"m17":22,"m23":16,"m29":21,"m35":19,"m41":22},
{"t":"2011-09-08T03:30","m9":4,"m11":5,"m17":4,"m23":6,"m29":5,"m35":8,"m41":9},
{"t":"2011-09-08T06:30","m9":16,"m11":18,"m17":18,"m23":20,"m29":15,"m35":24,"m41":28},
{"t":"2011-09-08T09:30","m9":16,"m11":null,"m17":18,"m23":20,"m29":15,"m35":24,"m41":28},
{"t":"2011-09-08T12:30","m9":4,"m11":null,"m17":4,"m23":6,"m29":5,"m35":8,"m41":9},
{"t":"2011-09-08T15:30","m9":20,"m11":72,"m17":22,"m23":16,"m29":21,"m35":19,"m41":22},
{"t":"2011-09-08T18:30","m9":6,"m11":null,"m17":7,"m23":4,"m29":7,"m35":10,"m41":6},
{"t":"2011-09-08T21:30","m9":14,"m11":null,"m17":15,"m23":22,"m29":18,"m35":26,"m41":32},
{"t":"2011-09-09T00:30","m9":3,"m11":7,"m17":3,"m23":8,"m29":4,"m35":7,"m41":12},
{"t":"2011-09-09T03:30","m9":22,"m11":13,"m17":20,"m23":14,"m29":23,"m35":21,"m41":25},
{"t":"2011-09-09T06:30","m9":8,"m11":4,"m17":9,"m23":5,"m29":8,"m35":12,"m41":8},
{"t":"2011-09-09T09:30","m9":50,"m11":null,"m17":9,"m23":5,"m29":8,"m35":12,"m41":8},
{"t":"2011-09-09T12:30","m9":72,"m11":null,"m17":20,"m23":14,"m29":23,"m35":21,"m41":25},
{"t":"2011-09-09T15:30","m9":null,"m11":68,"m17":3,"m23":8,"m29":4,"m35":7,"m41":12},
{"t":"2011-09-09T18:30","m9":null,"m11":null,"m17":15,"m23":22,"m29":18,"m35":26,"m41":32},
{"t":"2011-09-09T21:30","m9":15,"m11":null,"m17":7,"m23":4,"m29":7,"m35":10,"m41":6},
{"t":"2011-09-10T00:30","m9":null,"m11":15,"m17":22,"m23":16,"m29":21,"m35":19,"m41":22},
{"t":"2011-09-10T03:30","m9":null,"m11":5,"m17":4,"m23":6,"m29":5,"m35":8,"m41":9},
{"t":"2011-09-10T06:30","m9":16,"m11":18,"m17":18,"m23":20,"m29":15,"m35":24,"m41":28},
{"t":"2011-09-10T09:30","m9":30,"m11":28,"m17":18,"m23":20,"m29":15,"m35":24,"m41":28},
{"t":"2011-09-10T12:30","m9":12,"m11":10,"m17":4,"m23":6,"m29":5,"m35":8,"m41":9},
{"t":"2011-09-10T15:30","m9":38,"m11":35,"m17":22,"m23":16,"m29":21,"m35":19,"m41":22},
{"t":"2011-09-10T18:30","m9":15,"m11":14,"m17":7,"m23":4,"m29":7,"m35":10,"m41":6},
{"t":"2011-09-10T21:30","m9":28,"m11":32,"m17":15,"m23":22,"m29":18,"m35":26,"m41":32},
{"t":"2011-09-11T00:30","m9":10,"m11":12,"m17":3,"m23":8,"m29":4,"m35":7,"m41":12},
{"t":"2011-09-11T03:30","m9":35,"m11":26,"m17":20,"m23":14,"m29":23,"m35":21,"m41":25},
{"t":"2011-09-11T06:30","m9":18,"m11":16,"m17":9,"m23":5,"m29":8,"m35":12,"m41":8},
{"t":"2011-09-11T09:30","m9":18,"m11":16,"m17":12,"m23":8,"m29":8,"m35":12,"m41":8},
{"t":"2011-09-11T12:30","m9":35,"m11":26,"m17":30,"m23":20,"m29":23,"m35":21,"m41":25},
{"t":"2011-09-11T15:30","m9":10,"m11":12,"m17":8,"m23":10,"m29":4,"m35":7,"m41":12},
{"t":"2011-09-11T18:30","m9":28,"m11":32,"m17":25,"m23":28,"m29":18,"m35":26,"m41":32},
{"t":"2011-09-11T21:30","m9":15,"m11":14,"m17":14,"m23":7,"m29":7,"m35":10,"m41":6},
{"t":"2011-09-12T00:30","m9":38,"m11":35,"m17":32,"m23":22,"m29":21,"m35":19,"m41":22},
{"t":"2011-09-12T03:30","m9":12,"m11":10,"m17":10,"m23":9,"m29":5,"m35":8,"m41":9},
{"t":"2011-09-12T06:30","m9":30,"m11":28,"m17":28,"m23":26,"m29":15,"m35":24,"m41":28},
{"t":"2011-09-12T09:30","m9":30,"m11":28,"m17":28,"m23":26,"m29":15,"m35":24,"m41":28},
{"t":"2011-09-12T12:30","m9":12,"m11":10,"m17":10,"m23":9,"m29":5,"m35":8,"m41":9},
{"t":"2011-09-12T15:30","m9":38,"m11":35,"m17":32,"m23":22,"m29":21,"m35":19,"m41":22},
{"t":"2011-09-12T18:30","m9":15,"m11":14,"m17":14,"m23":7,"m29":7,"m35":10,"m41":6},
{"t":"2011-09-12T21:30","m9":28,"m11":32,"m17":25,"m23":28,"m29":18,"m35":26,"m41":32},
{"t":"2011-09-13T00:30","m9":10,"m11":12,"m17":8,"m23":10,"m29":4,"m35":7,"m41":12},
{"t":"2011-09-13T03:30","m9":35,"m11":26,"m17":30,"m23":20,"m29":23,"m35":21,"m41":25},
{"t":"2011-09-13T06:30","m9":18,"m11":16,"m17":12,"m23":8,"m29":8,"m35":12,"m41":8},
{"t":"2011-09-13T09:30","m9":18,"m11":16,"m17":12,"m23":8,"m29":8,"m35":12,"m41":8},
{"t":"2011-09-13T12:30","m9":35,"m11":26,"m17":30,"m23":20,"m29":23,"m35":21,"m41":25},
{"t":"2011-09-13T15:30","m9":10,"m11":12,"m17":8,"m23":10,"m29":4,"m35":7,"m41":12},
{"t":"2011-09-13T18:30","m9":28,"m11":32,"m17":25,"m23":28,"m29":18,"m35":26,"m41":32},
{"t":"2011-09-13T21:30","m9":15,"m11":14,"m17":14,"m23":7,"m29":7,"m35":10,"m41":6},
{"t":"2011-09-14T00:30","m9":38,"m11":35,"m17":32,"m23":22,"m29":21,"m35":19,"m41":22},
{"t":"2011-09-14T03:30","m9":12,"m11":10,"m17":10,"m23":9,"m29":5,"m35":8,"m41":9},
{"t":"2011-09-14T06:30","m9":30,"m11":28,"m17":28,"m23":26,"m29":15,"m35":24,"m41":28},
{"t":"2011-09-14T09:30","m9":16,"m11":18,"m17":18,"m23":20,"m29":15,"m35":24,"m41":28},
{"t":"2011-09-14T12:30","m9":4,"m11":5,"m17":4,"m23":6,"m29":5,"m35":8,"m41":9},
{"t":"2011-09-14T15:30","m9":20,"m11":15,"m17":22,"m23":16,"m29":21,"m35":19,"m41":22},
{"t":"2011-09-14T18:30","m9":6,"m11":3,"m17":7,"m23":4,"m29":7,"m35":10,"m41":6},
{"t":"2011-09-14T21:30","m9":14,"m11":21,"m17":15,"m23":22,"m29":18,"m35":26,"m41":32},
{"t":"2011-09-15T00:30","m9":3,"m11":7,"m17":3,"m23":8,"m29":4,"m35":7,"m41":12},
{"t":"2011-09-15T03:30","m9":22,"m11":13,"m17":20,"m23":14,"m29":23,"m35":21,"m41":25},
{"t":"2011-09-15T06:30","m9":8,"m11":4,"m17":9,"m23":5,"m29":8,"m35":12,"m41":8},
{"t":"2011-09-15T09:30","m9":8,"m11":4,"m17":9,"m23":5,"m29":8,"m35":12,"m41":8},
{"t":"2011-09-15T12:30","m9":22,"m11":13,"m17":20,"m23":14,"m29":23,"m35":21,"m41":25},
{"t":"2011-09-15T15:30","m9":3,"m11":7,"m17":3,"m23":8,"m29":4,"m35":7,"m41":12},
{"t":"2011-09-15T18:30","m9":14,"m11":21,"m17":15,"m23":22,"m29":18,"m35":26,"m41":32},
{"t":"2011-09-15T21:30","m9":6,"m11":3,"m17":7,"m23":4,"m29":7,"m35":10,"m41":6},
{"t":"2011-09-16T00:30","m9":20,"m11":15,"m17":22,"m23":16,"m29":21,"m35":19,"m41":22},
{"t":"2011-09-16T03:30","m9":4,"m11":5,"m17":4,"m23":6,"m29":5,"m35":8,"m41":9},
{"t":"2011-09-16T06:30","m9":16,"m11":18,"m17":18,"m23":20,"m29":15,"m35":24,"m41":28},
{"t":"2011-09-16T09:30","m9":16,"m11":18,"m17":18,"m23":20,"m29":15,"m35":24,"m41":28},
{"t":"2011-09-16T12:30","m9":4,"m11":5,"m17":4,"m23":6,"m29":5,"m35":8,"m41":9},
{"t":"2011-09-16T15:30","m9":20,"m11":15,"m17":22,"m23":16,"m29":21,"m35":19,"m41":22},
{"t":"2011-09-16T18:30","m9":6,"m11":3,"m17":7,"m23":4,"m29":7,"m35":10,"m41":6},
{"t":"2011-09-16T21:30","m9":14,"m11":21,"m17":15,"m23":22,"m29":18,"m35":26,"m41":32},
{"t":"2011-09-17T00:30","m9":3,"m11":7,"m17":3,"m23":8,"m29":4,"m35":7,"m41":12},
{"t":"2011-09-17T03:30","m9":22,"m11":13,"m17":20,"m23":14,"m29":23,"m35":21,"m41":25},
{"t":"2011-09-17T06:30","m9":8,"m11":4,"m17":9,"m23":5,"m29":8,"m35":12,"m41":8},
{"t":"2011-09-17T09:30","m9":8,"m11":4,"m17":9,"m23":5,"m29":8,"m35":12,"m41":8},
{"t":"2011-09-17T12:30","m9":22,"m11":13,"m17":20,"m23":14,"m29":23,"m35":21,"m41":25},
{"t":"2011-09-17T15:30","m9":3,"m11":7,"m17":3,"m23":8,"m29":4,"m35":7,"m41":12},
{"t":"2011-09-17T18:30","m9":14,"m11":21,"m17":15,"m23":22,"m29":18,"m35":26,"m41":32},
{"t":"2011-09-17T21:30","m9":6,"m11":3,"m17":7,"m23":4,"m29":7,"m35":10,"m41":6},
{"t":"2011-09-18T00:30","m9":20,"m11":15,"m17":22,"m23":16,"m29":21,"m35":19,"m41":22},
{"t":"2011-09-18T03:30","m9":4,"m11":5,"m17":4,"m23":6,"m29":5,"m35":8,"m41":9},
{"t":"2011-09-18T06:30","m9":16,"m11":18,"m17":18,"m23":20,"m29":15,"m35":24,"m41":28},
{"t":"2011-09-18T09:30","m9":16,"m11":18,"m17":18,"m23":20,"m29":15,"m35":24,"m41":28},
{"t":"2011-09-18T12:30","m9":4,"m11":5,"m17":4,"m23":6,"m29":5,"m35":8,"m41":9},
{"t":"2011-09-18T15:30","m9":20,"m11":15,"m17":22,"m23":16,"m29":21,"m35":19,"m41":22},
{"t":"2011-09-18T18:30","m9":6,"m11":3,"m17":7,"m23":4,"m29":7,"m35":10,"m41":6},
{"t":"2011-09-18T21:30","m9":14,"m11":21,"m17":15,"m23":22,"m29":18,"m35":26,"m41":32},
{"t":"2011-09-19T00:30","m9":3,"m11":7,"m17":3,"m23":8,"m29":4,"m35":7,"m41":12},
{"t":"2011-09-19T03:30","m9":22,"m11":13,"m17":20,"m23":14,"m29":23,"m35":21,"m41":25},
{"t":"2011-09-19T06:30","m9":8,"m11":4,"m17":9,"m23":5,"m29":8,"m35":12,"m41":8},
{"t":"2011-09-19T09:30","m9":8,"m11":4,"m17":9,"m23":5,"m29":8,"m35":12,"m41":8},
{"t":"2011-09-19T12:30","m9":22,"m11":13,"m17":20,"m23":14,"m29":23,"m35":21,"m41":25},
{"t":"2011-09-19T15:30","m9":3,"m11":7,"m17":3,"m23":8,"m29":4,"m35":7,"m41":12},
{"t":"2011-09-19T18:30","m9":14,"m11":21,"m17":15,"m23":22,"m29":18,"m35":26,"m41":32},
{"t":"2011-09-19T21:30","m9":6,"m11":3,"m17":7,"m23":4,"m29":7,"m35":10,"m41":6},
{"t":"2011-09-20T00:30","m9":20,"m11":15,"m17":22,"m23":16,"m29":21,"m35":19,"m41":22},
{"t":"2011-09-20T03:30","m9":4,"m11":5,"m17":4,"m23":6,"m29":5,"m35":8,"m41":9},
{"t":"2011-09-20T06:30","m9":16,"m11":18,"m17":18,"m23":20,"m29":15,"m35":24,"m41":28},
{"t":"2011-09-20T09:30","m9":16,"m11":18,"m17":18,"m23":20,"m29":15,"m35":24,"m41":28},
{"t":"2011-09-20T12:30","m9":4,"m11":5,"m17":4,"m23":6,"m29":5,"m35":8,"m41":9},
{"t":"2011-09-20T15:30","m9":20,"m11":15,"m17":22,"m23":16,"m29":21,"m35":19,"m41":22},
{"t":"2011-09-20T18:30","m9":6,"m11":3,"m17":7,"m23":4,"m29":7,"m35":10,"m41":6},
{"t":"2011-09-20T21:30","m9":14,"m11":21,"m17":15,"m23":22,"m29":18,"m35":26,"m41":32},
{"t":"2011-09-21T00:30","m9":3,"m11":7,"m17":3,"m23":8,"m29":4,"m35":7,"m41":12},
{"t":"2011-09-21T03:30","m9":22,"m11":13,"m17":20,"m23":14,"m29":23,"m35":21,"m41":25},
{"t":"2011-09-21T06:30","m9":8,"m11":4,"m17":9,"m23":5,"m29":8,"m35":12,"m41":8},
{"t":"2011-09-21T09:30","m9":8,"m11":4,"m17":9,"m23":5,"m29":8,"m35":12,"m41":8},
{"t":"2011-09-21T12:30","m9":22,"m11":13,"m17":20,"m23":14,"m29":23,"m35":21,"m41":25},
{"t":"2011-09-21T15:30","m9":3,"m11":7,"m17":3,"m23":8,"m29":4,"m35":7,"m41":12},
{"t":"2011-09-21T18:30","m9":14,"m11":21,"m17":15,"m23":22,"m29":18,"m35":26,"m41":32},
{"t":"2011-09-21T21:30","m9":6,"m11":3,"m17":7,"m23":4,"m29":7,"m35":10,"m41":6},
{"t":"2011-09-22T00:30","m9":20,"m11":15,"m17":22,"m23":16,"m29":21,"m35":19,"m41":22},
{"t":"2011-09-22T03:30","m9":4,"m11":5,"m17":4,"m23":6,"m29":5,"m35":8,"m41":9},
{"t":"2011-09-22T06:30","m9":16,"m11":18,"m17":18,"m23":20,"m29":15,"m35":24,"m41":28},
{"t":"2011-09-22T09:30","m9":16,"m11":18,"m17":18,"m23":20,"m29":15,"m35":24,"m41":28},
{"t":"2011-09-22T12:30","m9":4,"m11":5,"m17":4,"m23":6,"m29":5,"m35":8,"m41":9},
{"t":"2011-09-22T15:30","m9":null,"m11":null,"m17":22,"m23":16,"m29":21,"m35":19,"m41":22},
{"t":"2011-09-22T18:30","m9":null,"m11":null,"m17":7,"m23":4,"m29":7,"m35":10,"m41":6},
{"t":"2011-09-22T21:30","m9":null,"m11":null,"m17":15,"m23":22,"m29":18,"m35":26,"m41":32},
{"t":"2011-09-23T00:30","m9":25,"m11":18,"m17":3,"m23":8,"m29":4,"m35":7,"m41":12},
{"t":"2011-09-23T03:30","m9":22,"m11":13,"m17":20,"m23":14,"m29":23,"m35":21,"m41":25},
{"t":"2011-09-23T06:30","m9":8,"m11":4,"m17":9,"m23":5,"m29":8,"m35":12,"m41":8},
{"t":"2011-09-23T09:30","m9":8,"m11":4,"m17":9,"m23":5,"m29":8,"m35":12,"m41":8},
{"t":"2011-09-23T12:30","m9":22,"m11":13,"m17":20,"m23":14,"m29":23,"m35":21,"m41":25},
{"t":"2011-09-23T15:30","m9":3,"m11":7,"m17":3,"m23":8,"m29":4,"m35":7,"m41":12},
{"t":"2011-09-23T18:30","m9":14,"m11":21,"m17":15,"m23":22,"m29":18,"m35":26,"m41":32},
{"t":"2011-09-23T21:30","m9":6,"m11":3,"m17":7,"m23":4,"m29":7,"m35":10,"m41":6},
{"t":"2011-09-24T00:30","m9":20,"m11":15,"m17":22,"m23":16,"m29":21,"m35":19,"m41":22},
{"t":"2011-09-24T03:30","m9":4,"m11":5,"m17":4,"m23":6,"m29":5,"m35":8,"m41":9},
{"t":"2011-09-24T06:30","m9":16,"m11":18,"m17":18,"m23":20,"m29":15,"m35":24,"m41":28},
{"t":"2011-09-24T09:30","m9":30,"m11":28,"m17":18,"m23":20,"m29":15,"m35":24,"m41":28},
{"t":"2011-09-24T12:30","m9":12,"m11":10,"m17":4,"m23":6,"m29":5,"m35":8,"m41":9},
{"t":"2011-09-24T15:30","m9":38,"m11":35,"m17":22,"m23":16,"m29":21,"m35":19,"m41":22},
{"t":"2011-09-24T18:30","m9":null,"m11":null,"m17":7,"m23":4,"m29":7,"m35":10,"m41":6},
{"t":"2011-09-24T21:30","m9":null,"m11":null,"m17":15,"m23":22,"m29":18,"m35":26,"m41":32},
{"t":"2011-09-25T00:30","m9":60,"m11":63,"m17":3,"m23":8,"m29":4,"m35":7,"m41":12},
{"t":"2011-09-25T03:30","m9":null,"m11":null,"m17":20,"m23":14,"m29":23,"m35":21,"m41":25},
{"t":"2011-09-25T06:30","m9":null,"m11":null,"m17":9,"m23":5,"m29":8,"m35":12,"m41":8},
{"t":"2011-09-25T09:30","m9":18,"m11":16,"m17":9,"m23":5,"m29":8,"m35":12,"m41":8},
{"t":"2011-09-25T12:30","m9":35,"m11":26,"m17":20,"m23":14,"m29":23,"m35":21,"m41":25},
{"t":"2011-09-25T15:30","m9":10,"m11":12,"m17":3,"m23":8,"m29":4,"m35":7,"m41":12},
{"t":"2011-09-25T18:30","m9":28,"m11":32,"m17":15,"m23":22,"m29":18,"m35":26,"m41":32},
{"t":"2011-09-25T21:30","m9":15,"m11":14,"m17":7,"m23":4,"m29":7,"m35":10,"m41":6},
{"t":"2011-09-26T00:30","m9":38,"m11":35,"m17":22,"m23":16,"m29":21,"m35":19,"m41":22},
{"t":"2011-09-26T03:30","m9":12,"m11":10,"m17":4,"m23":6,"m29":5,"m35":8,"m41":9},
{"t":"2011-09-26T06:30","m9":30,"m11":28,"m17":18,"m23":20,"m29":15,"m35":24,"m41":28},
{"t":"2011-09-26T09:30","m9":30,"m11":28,"m17":18,"m23":20,"m29":15,"m35":24,"m41":28},
{"t":"2011-09-26T12:30","m9":12,"m11":10,"m17":4,"m23":6,"m29":5,"m35":8,"m41":9},
{"t":"2011-09-26T15:30","m9":38,"m11":35,"m17":22,"m23":16,"m29":21,"m35":19,"m41":22},
{"t":"2011-09-26T18:30","m9":15,"m11":14,"m17":7,"m23":4,"m29":7,"m35":10,"m41":6},
{"t":"2011-09-26T21:30","m9":28,"m11":32,"m17":15,"m23":22,"m29":18,"m35":26,"m41":32},
{"t":"2011-09-27T00:30","m9":10,"m11":12,"m17":3,"m23":8,"m29":4,"m35":7,"m41":12},
{"t":"2011-09-27T03:30","m9":35,"m11":26,"m17":20,"m23":14,"m29":23,"m35":21,"m41":25},
{"t":"2011-09-27T06:30","m9":18,"m11":16,"m17":9,"m23":5,"m29":8,"m35":12,"m41":8},
{"t":"2011-09-27T09:30","m9":18,"m11":16,"m17":9,"m23":5,"m29":8,"m35":12,"m41":8},
{"t":"2011-09-27T12:30","m9":35,"m11":26,"m17":20,"m23":14,"m29":23,"m35":21,"m41":25},
{"t":"2011-09-27T15:30","m9":10,"m11":12,"m17":3,"m23":8,"m29":4,"m35":7,"m41":12},
{"t":"2011-09-27T18:30","m9":28,"m11":32,"m17":15,"m23":22,"m29":18,"m35":26,"m41":32},
{"t":"2011-09-27T21:30","m9":15,"m11":14,"m17":7,"m23":4,"m29":7,"m35":10,"m41":6},
{"t":"2011-09-28T00:30","m9":38,"m11":35,"m17":22,"m23":16,"m29":21,"m35":19,"m41":22},
{"t":"2011-09-28T03:30","m9":12,"m11":10,"m17":4,"m23":6,"m29":5,"m35":8,"m41":9},
{"t":"2011-09-28T06:30","m9":30,"m11":28,"m17":18,"m23":20,"m29":15,"m35":24,"m41":28},
{"t":"2011-09-28T09:30","m9":16,"m11":18,"m17":18,"m23":20,"m29":15,"m35":24,"m41":28},
{"t":"2011-09-28T12:30","m9":4,"m11":5,"m17":4,"m23":6,"m29":5,"m35":8,"m41":9},
{"t":"2011-09-28T15:30","m9":20,"m11":15,"m17":22,"m23":16,"m29":21,"m35":19,"m41":22},
{"t":"2011-09-28T18:30","m9":6,"m11":3,"m17":7,"m23":4,"m29":7,"m35":10,"m41":6},
{"t":"2011-09-28T21:30","m9":null,"m11":null,"m17":15,"m23":22,"m29":18,"m35":26,"m41":32},
{"t":"2011-09-29T00:30","m9":null,"m11":null,"m17":3,"m23":8,"m29":4,"m35":7,"m41":12},
{"t":"2011-09-29T03:30","m9":null,"m11":null,"m17":20,"m23":14,"m29":23,"m35":21,"m41":25},
{"t":"2011-09-29T06:30","m9":null,"m11":null,"m17":9,"m23":5,"m29":8,"m35":12,"m41":8},
{"t":"2011-09-29T09:30","m9":8,"m11":4,"m17":9,"m23":5,"m29":8,"m35":12,"m41":8},
{"t":"2011-09-29T12:30","m9":22,"m11":13,"m17":20,"m23":14,"m29":23,"m35":21,"m41":25},
{"t":"2011-09-29T15:30","m9":3,"m11":7,"m17":3,"m23":8,"m29":4,"m35":7,"m41":12},
{"t":"2011-09-29T18:30","m9":14,"m11":21,"m17":15,"m23":22,"m29":18,"m35":26,"m41":32},
{"t":"2011-09-29T21:30","m9":6,"m11":3,"m17":7,"m23":4,"m29":7,"m35":10,"m41":6},
{"t":"2011-09-30T00:30","m9":null,"m11":null,"m17":22,"m23":16,"m29":21,"m35":19,"m41":22},
{"t":"2011-09-30T03:30","m9":null,"m11":null,"m17":4,"m23":6,"m29":5,"m35":8,"m41":9},
{"t":"2011-09-30T06:30","m9":null,"m11":null,"m17":18,"m23":20,"m29":15,"m35":24,"m41":28},
{"t":"2011-09-30T09:30","m9":null,"m11":null,"m17":12,"m23":20,"m29":15,"m35":24,"m41":28},
{"t":"2011-09-30T12:30","m9":null,"m11":null,"m17":3,"m23":6,"m29":5,"m35":8,"m41":9},
{"t":"2011-09-30T15:30","m9":55,"m11":45,"m17":15,"m23":16,"m29":21,"m35":19,"m41":22},
{"t":"2011-09-30T18:30","m9":null,"m11":null,"m17":5,"m23":4,"m29":7,"m35":10,"m41":6},
{"t":"2011-09-30T21:30","m9":null,"m11":null,"m17":10,"m23":22,"m29":18,"m35":26,"m41":32},
{"t":"2011-10-01T00:30","m9":null,"m11":null,"m17":2,"m23":8,"m29":4,"m35":7,"m41":12},
{"t":"2011-10-01T03:30","m9":null,"m11":null,"m17":14,"m23":14,"m29":23,"m35":21,"m41":25},
{"t":"2011-10-01T06:30","m9":null,"m11":null,"m17":4,"m23":5,"m29":8,"m35":12,"m41":8},
{"t":"2011-10-01T09:30","m9":16,"m11":16,"m17":4,"m23":5,"m29":8,"m35":12,"m41":8},
{"t":"2011-10-01T12:30","m9":null,"m11":8,"m17":14,"m23":14,"m29":23,"m35":21,"m41":25},
{"t":"2011-10-01T15:30","m9":null,"m11":25,"m17":2,"m23":8,"m29":4,"m35":7,"m41":12},
{"t":"2011-10-01T18:30","m9":52,"m11":45,"m17":10,"m23":22,"m29":18,"m35":26,"m41":32},
{"t":"2011-10-01T21:30","m9":null,"m11":null,"m17":5,"m23":4,"m29":7,"m35":10,"m41":6},
{"t":"2011-10-02T00:30","m9":null,"m11":null,"m17":15,"m23":16,"m29":21,"m35":19,"m41":22},
{"t":"2011-10-02T03:30","m9":null,"m11":null,"m17":3,"m23":6,"m29":5,"m35":8,"m41":9},
{"t":"2011-10-02T06:30","m9":null,"m11":null,"m17":12,"m23":20,"m29":15,"m35":24,"m41":28},
{"t":"2011-10-02T09:30","m9":15,"m11":20,"m17":12,"m23":20,"m29":15,"m35":24,"m41":28},
{"t":"2011-10-02T12:30","m9":null,"m11":null,"m17":3,"m23":6,"m29":5,"m35":8,"m41":9},
{"t":"2011-10-02T15:30","m9":null,"m11":null,"m17":15,"m23":16,"m29":21,"m35":19,"m41":22},
{"t":"2011-10-02T18:30","m9":null,"m11":null,"m17":5,"m23":4,"m29":7,"m35":10,"m41":6},
{"t":"2011-10-02T21:30","m9":null,"m11":null,"m17":10,"m23":22,"m29":18,"m35":26,"m41":32},
{"t":"2011-10-03T00:30","m9":null,"m11":null,"m17":2,"m23":8,"m29":4,"m35":7,"m41":12},
{"t":"2011-10-03T03:30","m9":null,"m11":12,"m17":14,"m23":14,"m29":23,"m35":21,"m41":25},
{"t":"2011-10-03T06:30","m9":20,"m11":18,"m17":4,"m23":5,"m29":8,"m35":12,"m41":8},
{"t":"2011-10-03T09:30","m9":5,"m11":20,"m17":4,"m23":5,"m29":8,"m35":12,"m41":8},
{"t":"2011-10-03T12:30","m9":4,"m11":5,"m17":14,"m23":14,"m29":23,"m35":21,"m41":25},
{"t":"2011-10-03T15:30","m9":null,"m11":null,"m17":2,"m23":8,"m29":4,"m35":7,"m41":12},
{"t":"2011-10-03T18:30","m9":null,"m11":null,"m17":10,"m23":22,"m29":18,"m35":26,"m41":32},
{"t":"2011-10-03T21:30","m9":null,"m11":null,"m17":5,"m23":4,"m29":7,"m35":10,"m41":6},
{"t":"2011-10-04T00:30","m9":null,"m11":null,"m17":15,"m23":16,"m29":21,"m35":19,"m41":22},
{"t":"2011-10-04T03:30","m9":null,"m11":null,"m17":3,"m23":6,"m29":5,"m35":8,"m41":9},
{"t":"2011-10-04T06:30","m9":null,"m11":null,"m17":12,"m23":20,"m29":15,"m35":24,"m41":28},
{"t":"2011-10-04T09:30","m9":28,"m11":30,"m17":18,"m23":20,"m29":15,"m35":24,"m41":28},
{"t":"2011-10-04T12:30","m9":30,"m11":19,"m17":4,"m23":6,"m29":5,"m35":8,"m41":9},
{"t":"2011-10-04T15:30","m9":10,"m11":10,"m17":22,"m23":16,"m29":21,"m35":19,"m41":22},
{"t":"2011-10-04T18:30","m9":null,"m11":null,"m17":7,"m23":4,"m29":7,"m35":10,"m41":6},
{"t":"2011-10-04T21:30","m9":null,"m11":null,"m17":15,"m23":22,"m29":18,"m35":26,"m41":32},
{"t":"2011-10-05T00:30","m9":18,"m11":null,"m17":3,"m23":8,"m29":4,"m35":7,"m41":12},
{"t":"2011-10-05T03:30","m9":null,"m11":18,"m17":20,"m23":14,"m29":23,"m35":21,"m41":25},
{"t":"2011-10-05T06:30","m9":null,"m11":null,"m17":9,"m23":5,"m29":8,"m35":12,"m41":8},
{"t":"2011-10-05T09:30","m9":null,"m11":null,"m17":9,"m23":5,"m29":8,"m35":12,"m41":8},
{"t":"2011-10-05T12:30","m9":null,"m11":null,"m17":20,"m23":14,"m29":23,"m35":21,"m41":25},
{"t":"2011-10-05T15:30","m9":null,"m11":null,"m17":3,"m23":8,"m29":4,"m35":7,"m41":12},
{"t":"2011-10-05T18:30","m9":null,"m11":null,"m17":15,"m23":22,"m29":18,"m35":26,"m41":32},
{"t":"2011-10-05T21:30","m9":null,"m11":null,"m17":7,"m23":4,"m29":7,"m35":10,"m41":6},
{"t":"2011-10-06T00:30","m9":null,"m11":null,"m17":22,"m23":16,"m29":21,"m35":19,"m41":22},
{"t":"2011-10-06T03:30","m9":null,"m11":null,"m17":4,"m23":6,"m29":5,"m35":8,"m41":9},
{"t":"2011-10-06T06:30","m9":null,"m11":null,"m17":18,"m23":20,"m29":15,"m35":24,"m41":28},
{"t":"2011-10-06T09:30","m9":62,"m11":35,"m17":18,"m23":20,"m29":15,"m35":24,"m41":28},
{"t":"2011-10-06T12:30","m9":null,"m11":22,"m17":4,"m23":6,"m29":5,"m35":8,"m41":9},
{"t":"2011-10-06T15:30","m9":null,"m11":18,"m17":22,"m23":16,"m29":21,"m35":19,"m41":22},
{"t":"2011-10-06T18:30","m9":null,"m11":null,"m17":7,"m23":4,"m29":7,"m35":10,"m41":6},
{"t":"2011-10-06T21:30","m9":22,"m11":null,"m17":15,"m23":22,"m29":18,"m35":26,"m41":32},
{"t":"2011-10-07T00:30","m9":25,"m11":25,"m17":3,"m23":8,"m29":4,"m35":7,"m41":12},
{"t":"2011-10-07T03:30","m9":11,"m11":null,"m17":20,"m23":14,"m29":23,"m35":21,"m41":25},
{"t":"2011-10-07T06:30","m9":40,"m11":null,"m17":9,"m23":5,"m29":8,"m35":12,"m41":8},
{"t":"2011-10-07T09:30","m9":50,"m11":40,"m17":9,"m23":5,"m29":8,"m35":12,"m41":8},
{"t":"2011-10-07T12:30","m9":33,"m11":45,"m17":20,"m23":14,"m29":23,"m35":21,"m41":25},
{"t":"2011-10-07T15:30","m9":20,"m11":28,"m17":3,"m23":8,"m29":4,"m35":7,"m41":12},
{"t":"2011-10-07T18:30","m9":null,"m11":null,"m17":15,"m23":22,"m29":18,"m35":26,"m41":32},
{"t":"2011-10-07T21:30","m9":null,"m11":null,"m17":7,"m23":4,"m29":7,"m35":10,"m41":6},
{"t":"2011-10-08T00:30","m9":null,"m11":null,"m17":22,"m23":16,"m29":21,"m35":19,"m41":22},
{"t":"2011-10-08T03:30","m9":null,"m11":null,"m17":4,"m23":6,"m29":5,"m35":8,"m41":9},
{"t":"2011-10-08T06:30","m9":null,"m11":null,"m17":18,"m23":20,"m29":15,"m35":24,"m41":28},
{"t":"2011-10-08T09:30","m9":null,"m11":null,"m17":18,"m23":20,"m29":15,"m35":24,"m41":28},
{"t":"2011-10-08T12:30","m9":null,"m11":null,"m17":4,"m23":6,"m29":5,"m35":8,"m41":9},
{"t":"2011-10-08T15:30","m9":null,"m11":null,"m17":22,"m23":16,"m29":21,"m35":19,"m41":22},
{"t":"2011-10-08T18:30","m9":null,"m11":null,"m17":7,"m23":4,"m29":7,"m35":10,"m41":6},
{"t":"2011-10-08T21:30","m9":null,"m11":null,"m17":15,"m23":22,"m29":18,"m35":26,"m41":32},
{"t":"2011-10-09T00:30","m9":null,"m11":null,"m17":3,"m23":8,"m29":4,"m35":7,"m41":12},
{"t":"2011-10-09T03:30","m9":null,"m11":null,"m17":20,"m23":14,"m29":23,"m35":21,"m41":25},
{"t":"2011-10-09T06:30","m9":null,"m11":null,"m17":9,"m23":5,"m29":8,"m35":12,"m41":8},
{"t":"2011-10-09T09:30","m9":null,"m11":null,"m17":9,"m23":5,"m29":8,"m35":12,"m41":8},
{"t":"2011-10-09T12:30","m9":null,"m11":null,"m17":20,"m23":14,"m29":23,"m35":21,"m41":25},
{"t":"2011-10-09T15:30","m9":null,"m11":null,"m17":3,"m23":8,"m29":4,"m35":7,"m41":12}
]},
"vconcat":[
{"title":"Horisontal strømhastighet 9 m dybde","width":729,"height":187,"layer":[
 {"mark":{"type":"line","color":"#0000ff","strokeWidth":1,"invalid":"break-paths-show-domains"},"encoding":{
  "x":{"field":"t","type":"temporal","title":null,"scale":{"domain":[{"year":2011,"month":9,"date":4,"hours":8},{"year":2011,"month":10,"date":9,"hours":17}]},"axis":{"format":"%d/%m","labelPadding":13,"values":[{"year":2011,"month":9,"date":8},{"year":2011,"month":9,"date":13},{"year":2011,"month":9,"date":18},{"year":2011,"month":9,"date":23},{"year":2011,"month":9,"date":28},{"year":2011,"month":10,"date":3},{"year":2011,"month":10,"date":8}]}},
  "y":{"field":"m9","type":"quantitative","title":"[cm/s]","scale":{"domain":[0,87.5]},"axis":{"values":[0,20,40,60,80],"labelPadding":14,"titlePadding":9}}}},
 {"mark":{"type":"line","opacity":0},"encoding":{
  "x":{"field":"t","type":"temporal","axis":{"orient":"top","labels":false,"grid":false,"title":null,"values":[{"year":2011,"month":9,"date":8},{"year":2011,"month":9,"date":13},{"year":2011,"month":9,"date":18},{"year":2011,"month":9,"date":23},{"year":2011,"month":9,"date":28},{"year":2011,"month":10,"date":3},{"year":2011,"month":10,"date":8}]}},
  "y":{"field":"m9","type":"quantitative","axis":{"orient":"right","labels":false,"grid":false,"title":null,"values":[0,20,40,60,80]}}}}
 ],"resolve":{"axis":{"x":"independent","y":"independent"}}},
{"title":"Horisontal strømhastighet 11 m dybde","width":729,"height":187,"layer":[
 {"mark":{"type":"line","color":"#0000ff","strokeWidth":1,"invalid":"break-paths-show-domains"},"encoding":{
  "x":{"field":"t","type":"temporal","title":null,"scale":{"domain":[{"year":2011,"month":9,"date":4,"hours":8},{"year":2011,"month":10,"date":9,"hours":17}]},"axis":{"format":"%d/%m","labelPadding":13,"values":[{"year":2011,"month":9,"date":8},{"year":2011,"month":9,"date":13},{"year":2011,"month":9,"date":18},{"year":2011,"month":9,"date":23},{"year":2011,"month":9,"date":28},{"year":2011,"month":10,"date":3},{"year":2011,"month":10,"date":8}]}},
  "y":{"field":"m11","type":"quantitative","title":"[cm/s]","scale":{"domain":[0,87.5]},"axis":{"values":[0,20,40,60,80],"labelPadding":14,"titlePadding":9}}}},
 {"mark":{"type":"line","opacity":0},"encoding":{
  "x":{"field":"t","type":"temporal","axis":{"orient":"top","labels":false,"grid":false,"title":null,"values":[{"year":2011,"month":9,"date":8},{"year":2011,"month":9,"date":13},{"year":2011,"month":9,"date":18},{"year":2011,"month":9,"date":23},{"year":2011,"month":9,"date":28},{"year":2011,"month":10,"date":3},{"year":2011,"month":10,"date":8}]}},
  "y":{"field":"m11","type":"quantitative","axis":{"orient":"right","labels":false,"grid":false,"title":null,"values":[0,20,40,60,80]}}}}
 ],"resolve":{"axis":{"x":"independent","y":"independent"}}},
{"title":"Horisontal strømhastighet 17 m dybde","width":729,"height":187,"layer":[
 {"mark":{"type":"line","color":"#0000ff","strokeWidth":1,"invalid":"break-paths-show-domains"},"encoding":{
  "x":{"field":"t","type":"temporal","title":null,"scale":{"domain":[{"year":2011,"month":9,"date":4,"hours":8},{"year":2011,"month":10,"date":9,"hours":17}]},"axis":{"format":"%d/%m","labelPadding":13,"values":[{"year":2011,"month":9,"date":8},{"year":2011,"month":9,"date":13},{"year":2011,"month":9,"date":18},{"year":2011,"month":9,"date":23},{"year":2011,"month":9,"date":28},{"year":2011,"month":10,"date":3},{"year":2011,"month":10,"date":8}]}},
  "y":{"field":"m17","type":"quantitative","title":"[cm/s]","scale":{"domain":[0,87.5]},"axis":{"values":[0,20,40,60,80],"labelPadding":14,"titlePadding":9}}}},
 {"mark":{"type":"line","opacity":0},"encoding":{
  "x":{"field":"t","type":"temporal","axis":{"orient":"top","labels":false,"grid":false,"title":null,"values":[{"year":2011,"month":9,"date":8},{"year":2011,"month":9,"date":13},{"year":2011,"month":9,"date":18},{"year":2011,"month":9,"date":23},{"year":2011,"month":9,"date":28},{"year":2011,"month":10,"date":3},{"year":2011,"month":10,"date":8}]}},
  "y":{"field":"m17","type":"quantitative","axis":{"orient":"right","labels":false,"grid":false,"title":null,"values":[0,20,40,60,80]}}}}
 ],"resolve":{"axis":{"x":"independent","y":"independent"}}},
{"title":"Horisontal strømhastighet 23 m dybde","width":729,"height":187,"layer":[
 {"mark":{"type":"line","color":"#0000ff","strokeWidth":1,"invalid":"break-paths-show-domains"},"encoding":{
  "x":{"field":"t","type":"temporal","title":null,"scale":{"domain":[{"year":2011,"month":9,"date":4,"hours":8},{"year":2011,"month":10,"date":9,"hours":17}]},"axis":{"format":"%d/%m","labelPadding":13,"values":[{"year":2011,"month":9,"date":8},{"year":2011,"month":9,"date":13},{"year":2011,"month":9,"date":18},{"year":2011,"month":9,"date":23},{"year":2011,"month":9,"date":28},{"year":2011,"month":10,"date":3},{"year":2011,"month":10,"date":8}]}},
  "y":{"field":"m23","type":"quantitative","title":"[cm/s]","scale":{"domain":[0,87.5]},"axis":{"values":[0,20,40,60,80],"labelPadding":14,"titlePadding":9}}}},
 {"mark":{"type":"line","opacity":0},"encoding":{
  "x":{"field":"t","type":"temporal","axis":{"orient":"top","labels":false,"grid":false,"title":null,"values":[{"year":2011,"month":9,"date":8},{"year":2011,"month":9,"date":13},{"year":2011,"month":9,"date":18},{"year":2011,"month":9,"date":23},{"year":2011,"month":9,"date":28},{"year":2011,"month":10,"date":3},{"year":2011,"month":10,"date":8}]}},
  "y":{"field":"m23","type":"quantitative","axis":{"orient":"right","labels":false,"grid":false,"title":null,"values":[0,20,40,60,80]}}}}
 ],"resolve":{"axis":{"x":"independent","y":"independent"}}},
{"title":"Horisontal strømhastighet 29 m dybde","width":729,"height":187,"layer":[
 {"mark":{"type":"line","color":"#0000ff","strokeWidth":1,"invalid":"break-paths-show-domains"},"encoding":{
  "x":{"field":"t","type":"temporal","title":null,"scale":{"domain":[{"year":2011,"month":9,"date":4,"hours":8},{"year":2011,"month":10,"date":9,"hours":17}]},"axis":{"format":"%d/%m","labelPadding":13,"values":[{"year":2011,"month":9,"date":8},{"year":2011,"month":9,"date":13},{"year":2011,"month":9,"date":18},{"year":2011,"month":9,"date":23},{"year":2011,"month":9,"date":28},{"year":2011,"month":10,"date":3},{"year":2011,"month":10,"date":8}]}},
  "y":{"field":"m29","type":"quantitative","title":"[cm/s]","scale":{"domain":[0,87.5]},"axis":{"values":[0,20,40,60,80],"labelPadding":14,"titlePadding":9}}}},
 {"mark":{"type":"line","opacity":0},"encoding":{
  "x":{"field":"t","type":"temporal","axis":{"orient":"top","labels":false,"grid":false,"title":null,"values":[{"year":2011,"month":9,"date":8},{"year":2011,"month":9,"date":13},{"year":2011,"month":9,"date":18},{"year":2011,"month":9,"date":23},{"year":2011,"month":9,"date":28},{"year":2011,"month":10,"date":3},{"year":2011,"month":10,"date":8}]}},
  "y":{"field":"m29","type":"quantitative","axis":{"orient":"right","labels":false,"grid":false,"title":null,"values":[0,20,40,60,80]}}}}
 ],"resolve":{"axis":{"x":"independent","y":"independent"}}},
{"title":"Horisontal strømhastighet 35 m dybde","width":729,"height":187,"layer":[
 {"mark":{"type":"line","color":"#0000ff","strokeWidth":1,"invalid":"break-paths-show-domains"},"encoding":{
  "x":{"field":"t","type":"temporal","title":null,"scale":{"domain":[{"year":2011,"month":9,"date":4,"hours":8},{"year":2011,"month":10,"date":9,"hours":17}]},"axis":{"format":"%d/%m","labelPadding":13,"values":[{"year":2011,"month":9,"date":8},{"year":2011,"month":9,"date":13},{"year":2011,"month":9,"date":18},{"year":2011,"month":9,"date":23},{"year":2011,"month":9,"date":28},{"year":2011,"month":10,"date":3},{"year":2011,"month":10,"date":8}]}},
  "y":{"field":"m35","type":"quantitative","title":"[cm/s]","scale":{"domain":[0,87.5]},"axis":{"values":[0,20,40,60,80],"labelPadding":14,"titlePadding":9}}}},
 {"mark":{"type":"line","opacity":0},"encoding":{
  "x":{"field":"t","type":"temporal","axis":{"orient":"top","labels":false,"grid":false,"title":null,"values":[{"year":2011,"month":9,"date":8},{"year":2011,"month":9,"date":13},{"year":2011,"month":9,"date":18},{"year":2011,"month":9,"date":23},{"year":2011,"month":9,"date":28},{"year":2011,"month":10,"date":3},{"year":2011,"month":10,"date":8}]}},
  "y":{"field":"m35","type":"quantitative","axis":{"orient":"right","labels":false,"grid":false,"title":null,"values":[0,20,40,60,80]}}}}
 ],"resolve":{"axis":{"x":"independent","y":"independent"}}},
{"title":"Horisontal strømhastighet 41 m dybde","width":729,"height":187,"layer":[
 {"mark":{"type":"line","color":"#0000ff","strokeWidth":1,"invalid":"break-paths-show-domains"},"encoding":{
  "x":{"field":"t","type":"temporal","title":null,"scale":{"domain":[{"year":2011,"month":9,"date":4,"hours":8},{"year":2011,"month":10,"date":9,"hours":17}]},"axis":{"format":"%d/%m","labelPadding":13,"values":[{"year":2011,"month":9,"date":8},{"year":2011,"month":9,"date":13},{"year":2011,"month":9,"date":18},{"year":2011,"month":9,"date":23},{"year":2011,"month":9,"date":28},{"year":2011,"month":10,"date":3},{"year":2011,"month":10,"date":8}]}},
  "y":{"field":"m41","type":"quantitative","title":"[cm/s]","scale":{"domain":[0,87.5]},"axis":{"values":[0,20,40,60,80],"labelPadding":14,"titlePadding":9}}}},
 {"mark":{"type":"line","opacity":0},"encoding":{
  "x":{"field":"t","type":"temporal","axis":{"orient":"top","labels":false,"grid":false,"title":null,"values":[{"year":2011,"month":9,"date":8},{"year":2011,"month":9,"date":13},{"year":2011,"month":9,"date":18},{"year":2011,"month":9,"date":23},{"year":2011,"month":9,"date":28},{"year":2011,"month":10,"date":3},{"year":2011,"month":10,"date":8}]}},
  "y":{"field":"m41","type":"quantitative","axis":{"orient":"right","labels":false,"grid":false,"title":null,"values":[0,20,40,60,80]}}}}
 ],"resolve":{"axis":{"x":"independent","y":"independent"}}}
]
}
